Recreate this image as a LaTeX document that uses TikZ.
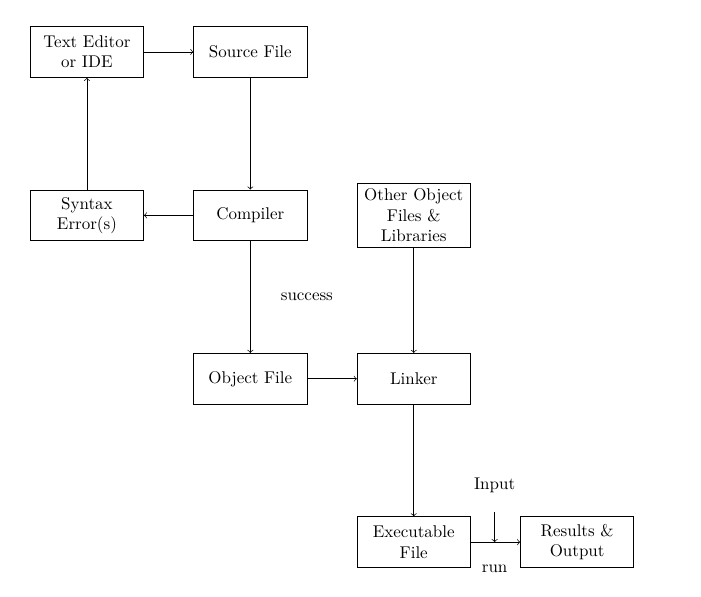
\documentclass[tikz,border=0pt]{standalone}
\usepackage{tikz}
\usepackage{amsmath}
\usepackage{amssymb}
\usepackage{xcolor}

\begin{document}
\begin{tikzpicture}[x=3.384cm,y=3.384cm,
    stagebox/.style={rectangle,draw,text width=6em,align=center,minimum height=3em},
    flow/.style={->}]
            \useasboundingbox (-0.532,-0.330) rectangle (3.758,3.318);
            \node (editor) at (0,3) [stagebox] {Text Editor or IDE};
            \node (source) at (1,3) [stagebox] {Source File};
            \node (errors) at (0,2) [stagebox] {Syntax Error(s)};
            \node (compiler) at (1,2) [stagebox] {Compiler};
            \node (others) at (2,2) [stagebox] {Other Object Files \& Libraries};
            \node (object) at (1,1) [stagebox] {Object File};
            \node (linker) at (2,1) [stagebox] {Linker};
            \node (exe) at (2,0) [stagebox] {Executable File};
            \node (results) at (3,0) [stagebox] {Results \& Output};

            \node (success) at (1.346,1.502) {success};
            \node (input) at (2.495,0.345) {Input};
            \node (run) at (2.495,-0.165) {run};
            \coordinate (intop) at (2.495,0.183);
            \coordinate (injoin) at (2.495,0);

            \draw[flow] (editor) -- (source);
            \draw[flow] (source) -- (compiler);
            \draw[flow] (compiler) -- (errors);
            \draw[flow] (errors) -- (editor);
            \draw[flow] (compiler) -- (object);
            \draw[flow] (object) -- (linker);
            \draw[flow] (others) -- (linker);
            \draw[flow] (linker) -- (exe);
            \draw[flow] (exe) -- (results);
            \draw[flow] (intop) -- (injoin);

        \end{tikzpicture}
\end{document}
